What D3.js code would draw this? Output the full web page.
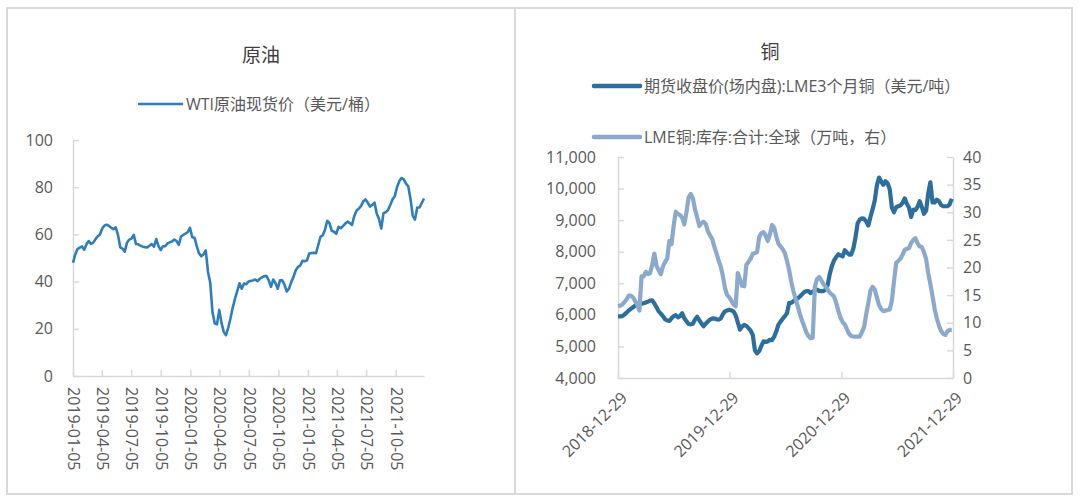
<!DOCTYPE html>
<html>
<head>
<meta charset="utf-8">
<script src="https://cdn.jsdelivr.net/npm/d3@7"></script>
<style>
  body { margin: 0; background: #fff; }
  text { font-family: "Open Sans", "Noto Sans CJK SC", sans-serif; }
</style>
</head>
<body>
<div id="chart"></div>
<script>
// WTI 原油现货价，周度，自 2019-01-05 起
const wtiStart = "2019-01-05";
const wtiValues = [
  48, 51.5, 53.8, 54.4, 54.9, 53.5, 55.8, 57.2, 56, 56.5,
  58, 59.2, 60, 62.5, 63.8, 64.1, 63.6, 62.8, 62.2, 63,
  59.7, 54.5, 54, 52.7, 56.5, 57.8, 58.2, 59.8, 55.9, 55.8,
  55.2, 54.8, 54.6, 54.5, 55.2, 55.9, 54.8, 58, 55, 53.4,
  55, 55, 56.2, 56.6, 57, 57.8, 57.2, 55.6, 59, 59.8,
  60.3, 61, 62.8, 58.8, 58.6, 55, 52, 50.8, 51.5, 53.2,
  44.1, 39.5, 27, 22.2, 21.9, 28, 22.5, 18.7, 17.3, 20.5,
  24.5, 29, 32.8, 36, 39.3, 37, 39.2, 38.9, 40, 40.3,
  40.5, 40.9, 40.2, 41.2, 41.8, 42.3, 42.3, 40.5, 37.8, 40.9,
  39.3, 37, 40.5, 40.5, 38.7, 35.8, 37, 39.8, 42, 44.8,
  46.2, 46.8, 48.8, 48.6, 49, 51.9, 52.1, 52.2, 52, 55.5,
  59, 59.6, 62, 65.8, 64.8, 61.5, 61.1, 60.2, 63.2, 62.6,
  63.5, 64.6, 65.4, 64.8, 64, 67.8, 70, 70.9, 72, 74,
  74.8, 73.5, 71.8, 72.5, 73.5, 68.8, 66.5, 62.5, 69, 69.4,
  70.3, 72.5, 74.8, 76.2, 80, 82.5, 83.9, 83.3, 81.5, 80.4,
  75, 68, 66.3, 71.4, 71.4, 73.3, 75.2
];
const wtiTicks = [
  "2019-01-05", "2019-04-05", "2019-07-05", "2019-10-05",
  "2020-01-05", "2020-04-05", "2020-07-05", "2020-10-05",
  "2021-01-05", "2021-04-05", "2021-07-05", "2021-10-05"
];
const wtiYTicks = [0, 20, 40, 60, 80, 100];

// LME 铜，周度，自 2018-12-29 起
const cuStart = "2018-12-29";
const cuPrice = [
  5950, 5950, 5960, 6010, 6070, 6140, 6190, 6240, 6290, 6340,
  6370, 6350, 6370, 6390, 6420, 6450, 6460, 6360, 6240, 6110,
  6040, 5960, 5860, 5820, 5810, 5890, 5960, 5990, 5920, 5960,
  6050, 5890, 5800, 5710, 5700, 5720, 5850, 5940, 5830, 5730,
  5640, 5720, 5790, 5850, 5880, 5890, 5860, 5850, 5880, 6020,
  6110, 6140, 6160, 6140, 6110, 5980, 5760, 5530, 5630, 5680,
  5650, 5580, 5500, 5360, 4870, 4780, 4850, 5020, 5160, 5140,
  5160, 5210, 5200, 5310, 5480, 5690, 5790, 5880, 5960, 6060,
  6380, 6380, 6430, 6490, 6520, 6580, 6650, 6720, 6750, 6750,
  6690, 6740, 6780, 6800, 6760, 6750, 6750, 6800, 6950, 7300,
  7550, 7730, 7830, 7920, 7880, 7850, 8050, 7980, 7910, 7910,
  8100, 8450, 8900, 9020, 9060, 9040, 8960, 8830, 9100, 9350,
  9620, 10100, 10350, 10230, 10120, 10230, 10170, 9980, 9400, 9250,
  9410, 9440, 9470, 9550, 9690, 9520, 9400, 9100, 9330, 9320,
  9420, 9600, 9420, 9200, 9300, 9850, 10200, 9560, 9560, 9650,
  9600, 9480, 9440, 9440, 9440, 9500, 9680
];
const cuStock = [
  13, 13.1, 13.3, 13.7, 14.2, 14.9, 14.9, 14.6, 13.9, 13.3,
  12.2, 18.4, 18.4, 19.2, 18.8, 19, 20.5, 22.5, 20.3, 19.5,
  18.8, 20.2, 21, 21.6, 24.8, 24.2, 27.5, 30.1, 29.7, 29.5,
  29, 27.8, 30, 32.7, 33.3, 32.5, 30.5, 29.1, 27.5, 28,
  28.3, 27.9, 26.6, 25.8, 25.2, 23.8, 22.6, 21.3, 20.2, 18.5,
  16.3, 15, 14.6, 14, 13.3, 13, 19, 17.9, 16.7, 16.6,
  20.5, 21, 21.6, 22.5, 22.6, 22.8, 25.5, 26.2, 26.4, 25.8,
  24.8, 26, 27.7, 27.2, 25.6, 24.3, 23.8, 23.3, 22.6, 21.2,
  19.5, 17.4, 15.7, 14.3, 13, 11.6, 10.4, 9.4, 8.3, 7.6,
  7.2, 7.3, 16.5, 17.9, 18.3, 17.7, 17, 16.5, 16, 15.4,
  15.1, 14.7, 13.6, 12.1, 10.9, 10.1, 9.7, 8.8, 8, 7.6,
  7.5, 7.5, 7.5, 7.5, 8.3, 9.2, 11.5, 13.6, 15.8, 16.5,
  16, 14.6, 13.2, 12.5, 12.1, 12.2, 12.3, 12.4, 14, 17.5,
  20.8, 21.2, 21.6, 22.3, 23.2, 23.4, 23.5, 24.4, 25, 25.3,
  24.4, 23.8, 23.7, 22.8, 21.5, 19, 17, 14.8, 12.5, 10.8,
  9.5, 8.5, 8, 7.8, 8.5, 8.7, 8.7
];
const cuTicks = ["2018-12-29", "2019-12-29", "2020-12-29", "2021-12-29"];
const cuLeftTicks = [4000, 5000, 6000, 7000, 8000, 9000, 10000, 11000];
const cuRightTicks = [0, 5, 10, 15, 20, 25, 30, 35, 40];

const W = 1080, H = 501;
const AXIS = "#d9d9d9", LABEL = "#595959";
const FONT = '"Open Sans", "Noto Sans CJK SC", sans-serif';
const parse = d3.timeParse("%Y-%m-%d");

const svg = d3.select("#chart").append("svg")
  .attr("width", W).attr("height", H);

// 外框
svg.append("rect").attr("x", 7).attr("y", 8).attr("width", 1065).attr("height", 486)
  .attr("fill", "none").attr("stroke", AXIS).attr("stroke-width", 2);
svg.append("line").attr("x1", 515).attr("x2", 515).attr("y1", 8).attr("y2", 494)
  .attr("stroke", AXIS).attr("stroke-width", 2);

function styleAxis(g) {
  g.select(".domain").attr("stroke", AXIS).attr("stroke-width", 1.5);
  g.selectAll(".tick line").attr("stroke", AXIS).attr("stroke-width", 1.5);
  g.selectAll(".tick text").attr("fill", LABEL).attr("font-size", 16).attr("font-family", FONT);
}

// ---------- 原油 ----------
const wtiData = wtiValues.map((v, i) => ({ date: d3.timeDay.offset(parse(wtiStart), 7 * i), value: v }));
const xW = d3.scaleTime().domain([parse(wtiStart), parse("2022-01-01")]).range([73, 424]);
const yW = d3.scaleLinear().domain([0, 100]).range([376, 140]);

svg.append("text").attr("x", 261).attr("y", 62).attr("text-anchor", "middle")
  .attr("font-size", 19).attr("fill", "#404040").text("原油");
svg.append("line").attr("x1", 138).attr("x2", 183).attr("y1", 104).attr("y2", 104)
  .attr("stroke", "#2f7ebc").attr("stroke-width", 2.5);
svg.append("text").attr("x", 186).attr("y", 104).attr("dy", "0.35em")
  .attr("font-size", 16).attr("fill", LABEL).text("WTI原油现货价（美元/桶）");

svg.append("g").attr("transform", "translate(73,0)")
  .call(d3.axisLeft(yW).tickValues(wtiYTicks).tickSize(-6).tickPadding(20).tickSizeOuter(0))
  .call(styleAxis);

const xAxisW = svg.append("g").attr("transform", "translate(0,376)")
  .call(d3.axisBottom(xW).tickValues(wtiTicks.map(parse)).tickSize(-6).tickSizeOuter(0)
    .tickFormat(d3.timeFormat("%Y-%m-%d")))
  .call(styleAxis);
xAxisW.selectAll(".tick text")
  .attr("transform", "rotate(90)").attr("text-anchor", "start")
  .attr("x", 11).attr("y", 0).attr("dy", "0.35em").attr("font-size", 16);

svg.append("path").datum(wtiData)
  .attr("fill", "none").attr("stroke", "#2f7ebc").attr("stroke-width", 2.6)
  .attr("stroke-linejoin", "round")
  .attr("d", d3.line().x(d => xW(d.date)).y(d => yW(d.value)));

// ---------- 铜 ----------
const cuData = cuPrice.map((v, i) => ({
  date: d3.timeDay.offset(parse(cuStart), 7 * i), price: v, stock: cuStock[i]
}));
const xC = d3.scaleTime().domain([parse(cuStart), parse("2021-12-29")]).range([618, 953]);
const yL = d3.scaleLinear().domain([4000, 11000]).range([378, 157]);
const yR = d3.scaleLinear().domain([0, 40]).range([378, 157]);

svg.append("text").attr("x", 770).attr("y", 59).attr("text-anchor", "middle")
  .attr("font-size", 19).attr("fill", "#404040").text("铜");
svg.append("line").attr("x1", 594).attr("x2", 640).attr("y1", 86).attr("y2", 86)
  .attr("stroke", "#2c6f9f").attr("stroke-width", 4.5).attr("stroke-linecap", "round");
svg.append("text").attr("x", 644).attr("y", 86).attr("dy", "0.35em")
  .attr("font-size", 16).attr("fill", LABEL).text("期货收盘价(场内盘):LME3个月铜（美元/吨）");
svg.append("line").attr("x1", 594).attr("x2", 640).attr("y1", 137).attr("y2", 137)
  .attr("stroke", "#8ba9cc").attr("stroke-width", 4.5).attr("stroke-linecap", "round");
svg.append("text").attr("x", 644).attr("y", 137).attr("dy", "0.35em")
  .attr("font-size", 16).attr("fill", LABEL).text("LME铜:库存:合计:全球（万吨，右）");

svg.append("g").attr("transform", "translate(618,0)")
  .call(d3.axisLeft(yL).tickValues(cuLeftTicks).tickSize(-6).tickPadding(22).tickSizeOuter(0)
    .tickFormat(d3.format(",")))
  .call(styleAxis);
svg.append("g").attr("transform", "translate(953,0)")
  .call(d3.axisRight(yR).tickValues(cuRightTicks).tickSize(-6).tickPadding(10).tickSizeOuter(0))
  .call(styleAxis);

const xAxisC = svg.append("g").attr("transform", "translate(0,378)")
  .call(d3.axisBottom(xC).tickValues(cuTicks.map(parse)).tickSize(-6).tickSizeOuter(0)
    .tickFormat(d3.timeFormat("%Y-%m-%d")))
  .call(styleAxis);
xAxisC.selectAll(".tick text")
  .attr("transform", "rotate(-45)").attr("text-anchor", "end")
  .attr("x", -8).attr("y", 16).attr("dy", "0.35em").attr("font-size", 16);

svg.append("path").datum(cuData)
  .attr("fill", "none").attr("stroke", "#2c6f9f").attr("stroke-width", 4.2)
  .attr("stroke-linejoin", "round")
  .attr("d", d3.line().x(d => xC(d.date)).y(d => yL(d.price)));
svg.append("path").datum(cuData)
  .attr("fill", "none").attr("stroke", "#8ba9cc").attr("stroke-width", 4.2)
  .attr("stroke-linejoin", "round")
  .attr("d", d3.line().x(d => xC(d.date)).y(d => yR(d.stock)));
</script>
</body>
</html>
